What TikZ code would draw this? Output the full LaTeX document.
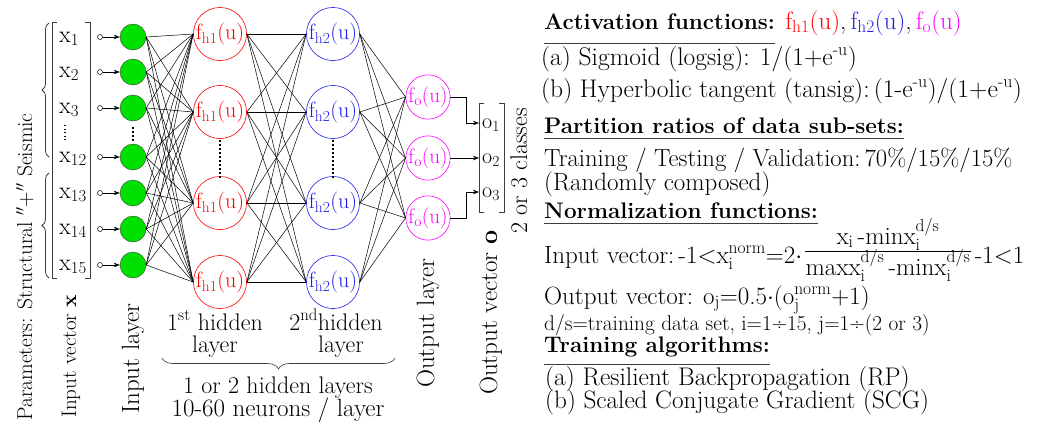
\documentclass[tikz,border=0pt]{standalone}
\usepackage{fontspec}
\usepackage{amsmath}
\usetikzlibrary{arrows.meta,decorations.pathreplacing,calc}
\definecolor{ngreen}{RGB}{0,224,0}
\definecolor{hred}{RGB}{255,0,0}
\definecolor{hblue}{RGB}{30,30,230}
\definecolor{omag}{RGB}{255,0,255}
\definecolor{dgray}{RGB}{60,60,60}
\newcommand{\myfs}[1]{\fontsize{#1}{#1}\selectfont}
\newcommand{\actf}[1]{f\textsubscript{#1}(u)}
\begin{document}
\begin{tikzpicture}[x=1pt,y=-1pt,
  inp/.style={circle, draw=dgray, fill=ngreen, minimum size=26pt, inner sep=0pt},
  smallc/.style={circle, draw=black, fill=white, minimum size=5pt, inner sep=0pt, line width=0.5pt},
  hone/.style={circle, draw=hred, text=hred, minimum size=46pt, inner sep=0pt, font=\myfs{22}, line width=0.6pt},
  htwo/.style={circle, draw=hblue, text=hblue, minimum size=46pt, inner sep=0pt, font=\myfs{22}, line width=0.6pt},
  outn/.style={circle, draw=omag, text=omag, minimum size=44pt, inner sep=0pt, font=\myfs{21}, line width=0.6pt},
  conn/.style={draw=black, line width=0.5pt},
  arr/.style={-{Stealth[length=6pt,width=4.5pt]}, line width=0.6pt},
  dotsv/.style={line width=1.6pt, dash pattern=on 1.6pt off 2.4pt},
  brk/.style={line width=0.8pt, draw=dgray},
  ul/.style={line width=0.8pt, draw=dgray},
  rt/.style={inner sep=0pt, anchor=base west},
  ct/.style={inner sep=0pt, anchor=base},
  rot/.style={rotate=90, anchor=base west, inner sep=0pt}
]
\useasboundingbox (0,0) rectangle (1043,426);

% ---------- input layer ----------
\foreach \i/\y in {1/37,2/72,3/108,4/157,5/193,6/229,7/265}{
  \node[inp] (g\i) at (133,\y) {};
  \node[smallc] (s\i) at (100,\y) {};
  \draw[arr] (s\i) -- (g\i);
}
\draw[dotsv] (133,127) -- (133,141);

% input vector labels
\foreach \i/\y/\t in {1/37/1,2/72/2,3/108/3,4/157/12,5/193/13,6/229/14,7/265/15}{
  \node[rt, font=\myfs{24}] (xl\i) at (59,\y+5) {x\textsubscript{\t}};
}
\draw[line width=1.3pt, dash pattern=on 1.3pt off 2.2pt] (65,125) -- (65,140);
\draw[brk] (57,22) -- (52,22) -- (52,278) -- (57,278);
\draw[brk] (85,22) -- (90,22) -- (90,278) -- (85,278);
\draw[brk, decorate, decoration={brace, amplitude=7pt}] (49,157) -- (49,23);
\draw[brk, decorate, decoration={brace, amplitude=7pt}] (49,278) -- (49,173);

\node[rot, font=\myfs{21.5}] (param) at (32,421) {Parameters: Structural $''$+$''$ Seismic};
\node[rot, font=\myfs{21}] (ivec) at (76,418) {Input vector \textbf{x}};
\node[rot, font=\myfs{25}] (ilay) at (139,414) {Input layer};

% ---------- hidden layers ----------
\foreach \i/\y in {1/34,2/112,3/203,4/282}{
  \node[hone] (a\i) at (220,\y) {\actf{h1}};
  \node[htwo] (b\i) at (333,\y) {\actf{h2}};
}
\draw[dotsv] (220,140) -- (220,178);
\draw[dotsv] (333,140) -- (333,178);

% ---------- output layer ----------
\foreach \i/\y in {1/97,2/158,3/218}{
  \node[outn] (c\i) at (428,\y) {\actf{o}};
}

% ---------- connections ----------
\foreach \i in {1,...,7}{
  \foreach \j in {1,...,4}{
    \draw[conn] (g\i.east) -- (a\j.west);
  }
}
\foreach \i in {1,...,4}{
  \foreach \j in {1,...,4}{
    \draw[conn] (a\i.east) -- (b\j.west);
  }
}
\foreach \i in {1,...,4}{
  \foreach \j in {1,...,3}{
    \draw[conn] (b\i.east) -- (c\j.west);
  }
}

% ---------- output vector ----------
\coordinate (p1) at (479,123);
\coordinate (p2) at (479,158);
\coordinate (p3) at (479,192);
\draw[arr] (c1.east) -- ++(16,0) |- (p1);
\draw[arr] (c2.east) -- (p2);
\draw[arr] (c3.east) -- ++(16,0) |- (p3);
\foreach \i/\y in {1/123,2/158,3/192}{
  \node[rt, font=\myfs{22}] (ol\i) at (482,\y+5) {o\textsubscript{\i}};
}
\draw[brk] (484,103) -- (479,103) -- (479,212) -- (484,212);
\draw[brk] (499,103) -- (504,103) -- (504,212) -- (499,212);

\node[rot, font=\myfs{25}] (olay) at (434,388) {Output layer};
\node[rot, font=\myfs{25}] (ovec) at (497,395) {Output vector \textbf{o}};
\node[rot, font=\myfs{24}] (ncls) at (527,234) {2 or 3 classes};

% ---------- hidden layer labels ----------
\node[ct, font=\myfs{24}] (l1a) at (215,330) {1\textsuperscript{st} hidden};
\node[ct, font=\myfs{24}] (l1b) at (215,352) {layer};
\node[ct, font=\myfs{24}] (l2a) at (336,330) {2\textsuperscript{nd}hidden};
\node[ct, font=\myfs{24}] (l2b) at (341,352) {layer};
\draw[brk, line width=0.6pt, decorate, decoration={brace, amplitude=11pt, mirror}] (162,358) -- (395,358);
\node[ct, font=\myfs{24}] (l3a) at (278,393) {1 or 2 hidden layers};
\node[ct, font=\myfs{25}] (l3b) at (278,416) {10-60 neurons / layer};

% ---------- right column ----------
\node[rt, font=\myfs{22.5}\bfseries] (act) at (544,29) {Activation functions:};
\draw[ul] (act.base west |- 0,43) -- (act.base east |- 0,43);
\node[rt, font=\myfs{25}] (actl) at ($(act.base east)+(10,0)$) {\textcolor{hred}{\actf{h1}},\,\textcolor{hblue}{\actf{h2}},\,\textcolor{omag}{\actf{o}}};
\node[rt, font=\myfs{25.5}] (sig) at (541,65) {(a) Sigmoid (logsig): 1/(1+e\textsuperscript{-u})};
\node[rt, font=\myfs{25.5}] (hyp) at (541,97) {(b) Hyperbolic tangent (tansig):\,(1-e\textsuperscript{-u})/(1+e\textsuperscript{-u})};

\node[rt, font=\myfs{22.5}\bfseries] (part) at (544,133) {Partition ratios of data sub-sets:};
\draw[ul] (part.base west |- 0,138) -- (part.base east |- 0,138);
\node[rt, font=\myfs{24.7}] (ttv) at (544,166) {Training / Testing / Validation:\,70\%/15\%/15\%};
\node[rt, font=\myfs{25}] (rnd) at (544,190) {(Randomly composed)};

\node[rt, font=\myfs{22.5}\bfseries] (norm) at (544,218) {Normalization functions:};
\draw[ul] (norm.base west |- 0,223.5) -- (norm.base east |- 0,223.5);
\node[rt, font=\myfs{25}] (ivf) at (544,263) {Input vector:\,-1<x$_{\text{i}}^{\text{norm}}$=2$\cdot$};
\node[rt, font=\myfs{25}] (den) at ($(ivf.base east)+(3,12)$) {maxx$_{\text{i}}^{\text{d/s}}$\,-minx$_{\text{i}}^{\text{d/s}}$};
\draw[line width=0.8pt] (den.base west |- 0,251) -- (den.base east |- 0,251);
\node[ct, font=\myfs{25}] (num) at ($(den.base)+(0,-31)$) {x$_{\text{i}}$\,-minx$_{\text{i}}^{\text{d/s}}$};
\node[rt, font=\myfs{25}] (ivr) at ($(den.base east)+(4,-12)$) {-1<1};
\node[rt, font=\myfs{25}] (ovf) at (544,304) {Output vector: o$_{\text{j}}$=0.5$\cdot$(o$_{\text{j}}^{\text{norm}}$+1)};
\node[rt, font=\myfs{21.3}] (ds) at (544,330) {d/s=training data set, i=1÷15, j=1÷(2 or 3)};

\node[rt, font=\myfs{22.5}\bfseries] (talg) at (544,352) {Training algorithms:};
\draw[ul] (talg.base west |- 0,364) -- (talg.base east |- 0,364);
\node[rt, font=\myfs{25.5}] (rp) at (545,385) {(a) Resilient Backpropagation (RP)};
\node[rt, font=\myfs{25.2}] (scg) at (545,408) {(b) Scaled Conjugate Gradient (SCG)};
\end{tikzpicture}
\end{document}
